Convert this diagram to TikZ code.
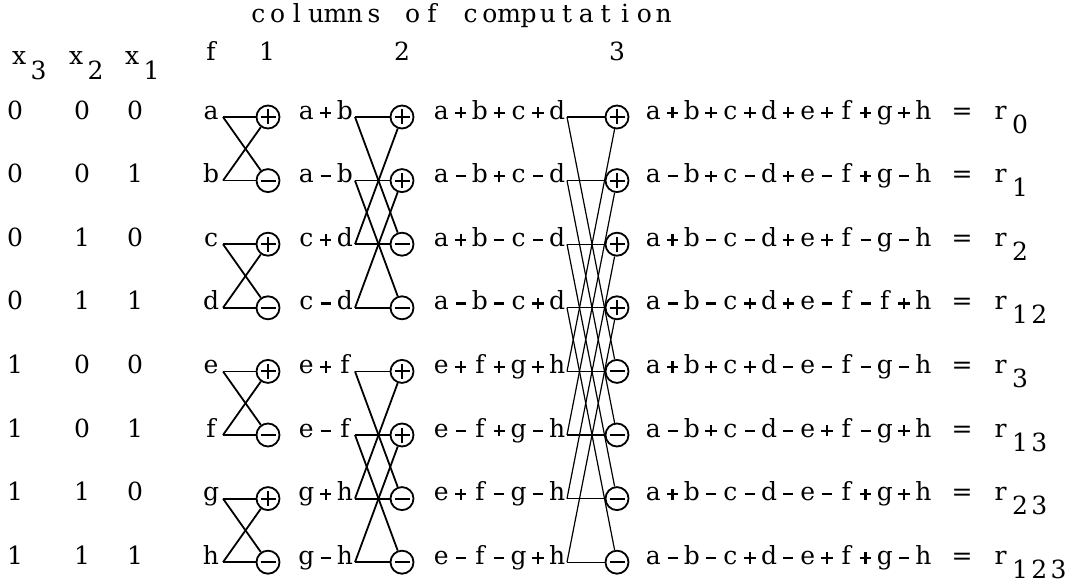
\documentclass[tikz,border=0pt]{standalone}
\usepackage{fontspec}
\usepackage{graphicx}
\newfontfamily\rf{DejaVu Serif}
\newlength\pitch \setlength\pitch{19.3pt}
\def\pl{\ooalign{\rule[0.2175em]{0.46em}{0.085em}\cr\hidewidth\rule[0.03em]{0.085em}{0.46em}\hidewidth\cr}}
\def\mi{\rule[0.2175em]{0.4em}{0.085em}}
\def\mono#1{\monoi#1\relax}
\def\monoi#1{\ifx#1\relax\else\monochar{#1}\expandafter\monoi\fi}
\def\monochar#1{\makebox[\pitch][c]{\ifx#1+\pl\else\ifx#1-\mi\else#1\fi\fi}}
\def\monox#1{\expandafter\mono\expandafter{#1}}
\begin{document}
\begin{tikzpicture}[x=1pt,y=-1pt,
  txt/.style={font=\rf\fontsize{25}{30}\selectfont, inner sep=0pt},
  lbl/.style={txt, anchor=mid west},
  ctr/.style={txt, anchor=mid},
  wire/.style={line width=1.8pt},
  thin wire/.style={line width=1.2pt},
  opc/.style={circle, draw, line width=1.8pt, minimum size=23pt, inner sep=0pt},
  sg0/.style={opc, path picture={
     \draw[line width=2pt] ([xshift=-7.5pt]path picture bounding box.center) -- ([xshift=7.5pt]path picture bounding box.center)
       ([yshift=-7.5pt]path picture bounding box.center) -- ([yshift=7.5pt]path picture bounding box.center);}},
  sg1/.style={opc, path picture={
     \draw[line width=2pt] ([xshift=-7.5pt]path picture bounding box.center) -- ([xshift=7.5pt]path picture bounding box.center);}}
]
\useasboundingbox (0,0) rectangle (1070,588);

\node[ctr] (title) at (461,20) {\mono{columns~of~computation}};
\node[lbl] (hx3) at (9.4,62) {\mono{x}\raisebox{-15pt}{\mono{3}}};
\node[lbl] (hx2) at (66.4,62) {\mono{x}\raisebox{-15pt}{\mono{2}}};
\node[lbl] (hx1) at (122.4,62) {\mono{x}\raisebox{-15pt}{\mono{1}}};
\node[ctr] (hf) at (211,58) {f};
\node[ctr] (h1) at (267,58) {1};
\node[ctr] (h2) at (402,58) {2};
\node[ctr] (h3) at (617,58) {3};

\foreach \k/\bc/\bb/\ba/\f/\oa/\ob/\res/\sub in {
  0/0/0/0/a/a+b/a+b+c+d/a+b+c+d+e+f+g+h/0,
  1/0/0/1/b/a-b/a-b+c-d/a-b+c-d+e-f+g-h/1,
  2/0/1/0/c/c+d/a+b-c-d/a+b-c-d+e+f-g-h/2,
  3/0/1/1/d/c-d/a-b-c+d/a-b-c+d+e-f-f+h/12,
  4/1/0/0/e/e+f/e+f+g+h/a+b+c+d-e-f-g-h/3,
  5/1/0/1/f/e-f/e-f+g-h/a-b+c-d-e+f-g+h/13,
  6/1/1/0/g/g+h/e+f-g-h/a+b-c-d-e-f+g+h/23,
  7/1/1/1/h/g-h/e-f-g+h/a-b-c+d-e+f+g-h/123}{
  \pgfmathsetmacro\yy{117+63.6*\k}
  \pgfmathtruncatemacro\pa{mod(\k,2)}
  \pgfmathtruncatemacro\pb{mod(\k,4)>1}
  \pgfmathtruncatemacro\pc{\k>3}
  \node[ctr] (b3-\k) at (15,\yy) {\bc};
  \node[ctr] (b2-\k) at (82,\yy) {\bb};
  \node[ctr] (b1-\k) at (135,\yy) {\ba};
  \node[ctr] (f-\k) at (211,\yy) {\f};
  \coordinate (s1-\k) at (223,\yy);
  \node[sg\pa] (c1-\k) at (268,\yy) {};
  \node[lbl] (o1-\k) at (296.5,\yy) {\monox\oa};
  \coordinate (s2-\k) at (355,\yy);
  \node[sg\pb] (c2-\k) at (402,\yy) {};
  \node[lbl] (o2-\k) at (431.5,\yy) {\monox\ob};
  \coordinate (s3-\k) at (567,\yy);
  \node[sg\pc] (c3-\k) at (617,\yy) {};
  \node[lbl] (res-\k) at (643.4,\yy) {\monox\res};
  \node[ctr] (eq-\k) at (962,\yy) {=};
  \node[lbl] (r-\k) at (990.8,\yy) {\mono{r}\raisebox{-14pt}{\monox\sub}};
}

\foreach \i/\j in {0/1,2/3,4/5,6/7}{
  \draw[wire] (s1-\i) -- (c1-\i);
  \draw[wire] (s1-\j) -- (c1-\j);
  \draw[wire] (s1-\i) -- (c1-\j);
  \draw[wire] (s1-\j) -- (c1-\i);
}
\foreach \i/\j in {0/2,1/3,4/6,5/7}{
  \draw[wire] (s2-\i) -- (c2-\i);
  \draw[wire] (s2-\j) -- (c2-\j);
  \draw[wire] (s2-\i) -- (c2-\j);
  \draw[wire] (s2-\j) -- (c2-\i);
}
\foreach \i/\j in {0/4,1/5,2/6,3/7}{
  \draw[thin wire] (s3-\i) -- (c3-\i);
  \draw[thin wire] (s3-\j) -- (c3-\j);
  \draw[thin wire] (s3-\i) -- (c3-\j);
  \draw[thin wire] (s3-\j) -- (c3-\i);
}
\end{tikzpicture}
\end{document}
